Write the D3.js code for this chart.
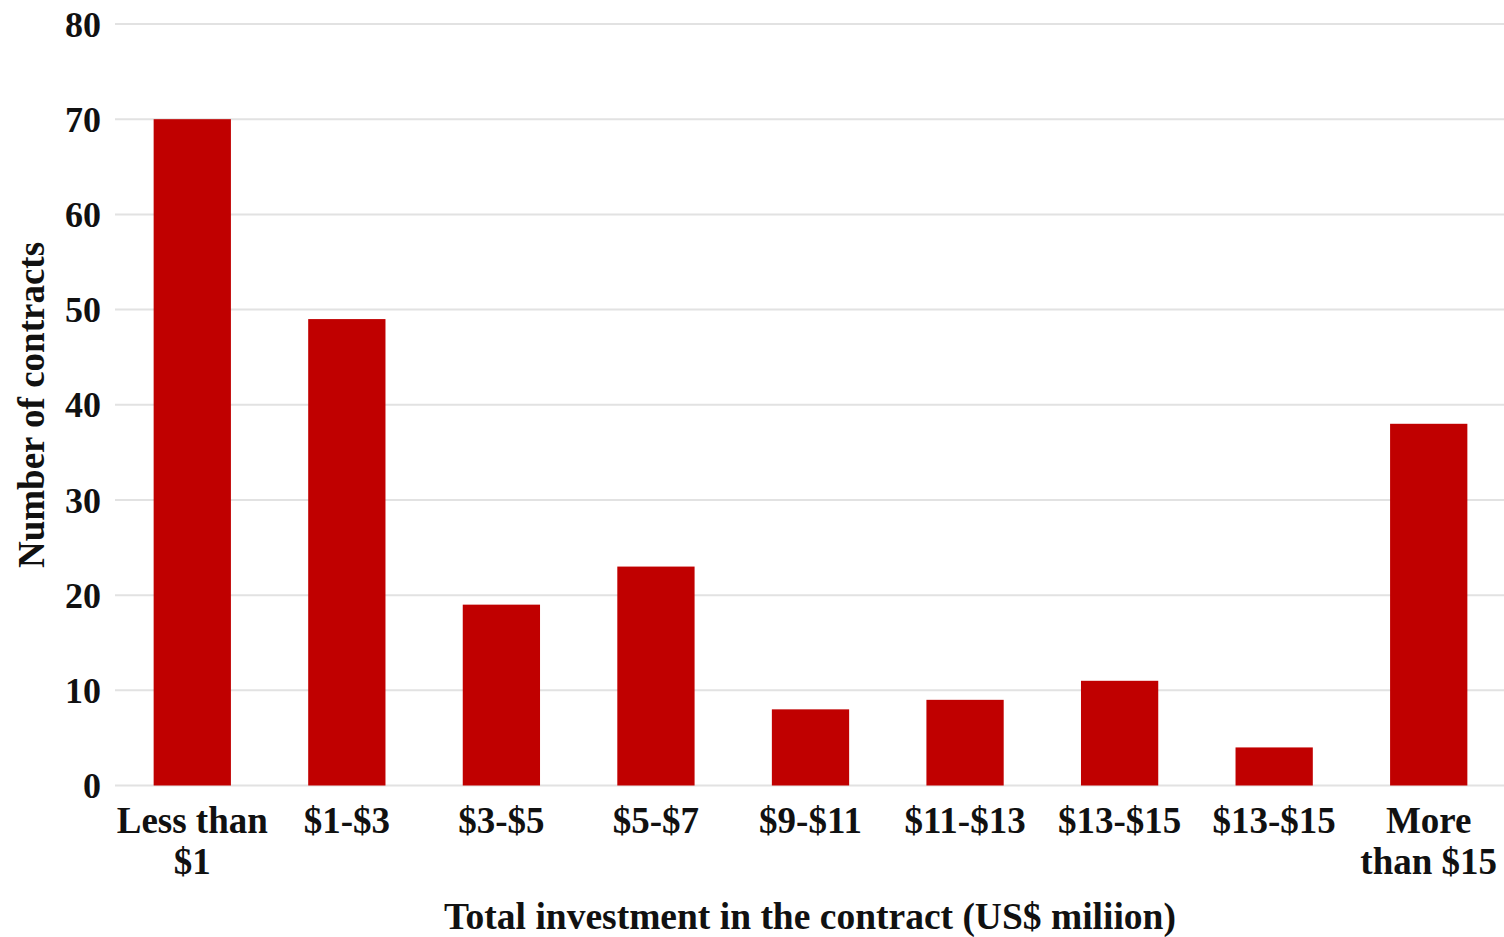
<!DOCTYPE html>
<html>
<head>
<meta charset="utf-8">
<script src="https://cdn.jsdelivr.net/npm/d3@7"></script>
<style>
  html, body { margin: 0; padding: 0; background: #fff; }
  svg { display: block; }
  text { font-family: "Liberation Serif", "Times New Roman", serif; font-weight: bold; fill: #111; }
</style>
</head>
<body>
<svg id="chart" width="1504" height="937"></svg>
<script>
// Contracts by total investment bracket (US$ million)
const categories = [
  ["Less than", "$1"], ["$1-$3"], ["$3-$5"], ["$5-$7"], ["$9-$11"],
  ["$11-$13"], ["$13-$15"], ["$13-$15"], ["More", "than $15"]
];
const contractCounts = [70, 49, 19, 23, 8, 9, 11, 4, 38];
const yTicks = [0, 10, 20, 30, 40, 50, 60, 70, 80];

const svg = d3.select("#chart");
const margin = { left: 115, right: -2, top: 24, bottom: 152 };
const W = 1504, H = 937;

const x = d3.scaleBand()
  .domain(d3.range(categories.length))
  .range([margin.left, W - margin.right])
  .paddingInner(0.5)
  .paddingOuter(0.25);

const y = d3.scaleLinear()
  .domain([0, 80])
  .range([H - margin.bottom + 0.5, margin.top]);

// Horizontal gridlines
svg.append("g")
  .selectAll("line")
  .data(yTicks)
  .join("line")
  .attr("x1", margin.left)
  .attr("x2", W)
  .attr("y1", d => y(d))
  .attr("y2", d => y(d))
  .attr("stroke", "#e2e2e2")
  .attr("stroke-width", 2);

// Y tick labels
svg.append("g")
  .selectAll("text")
  .data(yTicks)
  .join("text")
  .attr("x", 101)
  .attr("y", d => y(d))
  .attr("dy", "0.35em")
  .attr("text-anchor", "end")
  .style("font-size", "36px")
  .text(d => d);

// Bars
svg.append("g")
  .selectAll("rect")
  .data(contractCounts)
  .join("rect")
  .attr("x", (d, i) => x(i))
  .attr("width", x.bandwidth())
  .attr("y", d => y(d))
  .attr("height", d => y(0) - y(d))
  .attr("fill", "#c00000");

// Category labels (may wrap to two lines)
const xl = svg.append("g")
  .selectAll("text")
  .data(categories)
  .join("text")
  .attr("x", (d, i) => x(i) + x.bandwidth() / 2)
  .attr("y", 833)
  .attr("text-anchor", "middle")
  .style("font-size", "37px");
xl.selectAll("tspan")
  .data((d, i) => d.map(s => ({ s, i })))
  .join("tspan")
  .attr("x", d => x(d.i) + x.bandwidth() / 2)
  .attr("dy", (d, j) => j === 0 ? 0 : 41)
  .text(d => d.s);

// Axis titles
svg.append("text")
  .attr("x", 810)
  .attr("y", 929)
  .attr("text-anchor", "middle")
  .style("font-size", "37.5px")
  .text("Total investment in the contract (US$ miliion)");

svg.append("text")
  .attr("transform", "translate(44,405) rotate(-90)")
  .attr("text-anchor", "middle")
  .style("font-size", "37px")
  .text("Number of contracts");
</script>
</body>
</html>
